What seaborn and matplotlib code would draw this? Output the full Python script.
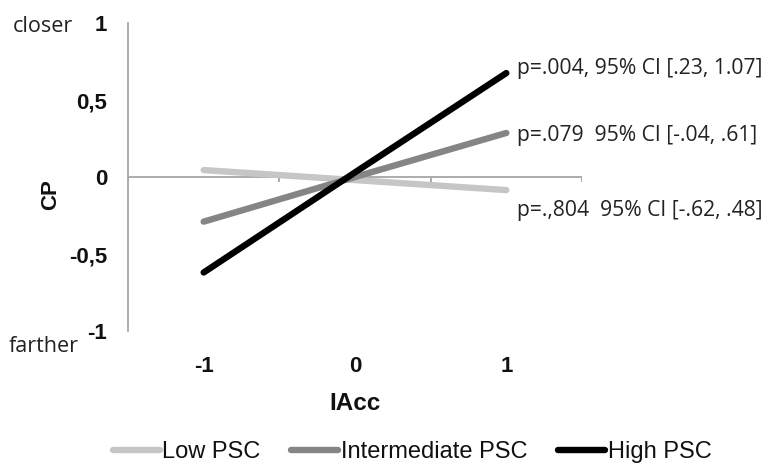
import matplotlib
matplotlib.use("Agg")
import matplotlib.pyplot as plt
import seaborn as sns
import pandas as pd

iacc = [-1, 0, 1]
groups = ["Low PSC", "Intermediate PSC", "High PSC"]
low_psc = [0.045, -0.02, -0.085]
intermediate_psc = [-0.29, 0.0, 0.286]
high_psc = [-0.62, 0.03, 0.675]
annotations = ["p=.,804  95% CI [-.62, .48]",
               "p=.079  95% CI [-.04, .61]",
               "p=.004, 95% CI [.23, 1.07]"]
y_ticks = [-1, -0.5, 0, 0.5, 1]
y_ticklabels = ["-1", "-0,5", "0", "0,5", "1"]

rows = []
for g, vals in zip(groups, [low_psc, intermediate_psc, high_psc]):
    for x, v in zip(iacc, vals):
        rows.append({"IAcc": x, "CP": v, "group": g})
df = pd.DataFrame(rows)

sns.set_style("white")
plt.rcParams["font.family"] = ["Liberation Sans", "DejaVu Sans"]

W, H = 778, 465
fig = plt.figure(figsize=(W / 100, H / 100), dpi=100)
ax = fig.add_axes([128 / W, 1 - 331 / H, 454 / W, 308 / H])

palette = {"Low PSC": "#c6c6c6", "Intermediate PSC": "#858585", "High PSC": "#000000"}
sns.lineplot(data=df, x="IAcc", y="CP", hue="group", palette=palette,
             linewidth=4.6, ax=ax, legend=True, solid_capstyle="round")

ax.set_xlim(-1.5, 1.5)
ax.set_ylim(-1, 1)

for s in ["top", "right", "bottom"]:
    ax.spines[s].set_visible(False)
ax.spines["left"].set_color("#a6a6a6")
ax.spines["left"].set_linewidth(1.3)

ax.axhline(0, color="#a6a6a6", linewidth=1.3, zorder=0)
ax.vlines([-1.5, -0.5, 0.5, 1.5], -0.035, 0, color="#a6a6a6", linewidth=1.3, zorder=0)

ax.set_yticks(y_ticks)
ax.set_yticklabels(y_ticklabels, fontsize=16, fontweight="bold", color="#111111")
ax.tick_params(axis="y", direction="out", length=5, color="#a6a6a6", width=1.3, pad=10)
ax.set_xticks(iacc)
ax.set_xticklabels([str(v) for v in iacc], fontsize=16, fontweight="bold", color="#111111")
ax.tick_params(axis="x", length=0, pad=18)

ax.set_xlabel("")
ax.set_ylabel("")
fig.text(355 / W, 1 - 403 / H, "IAcc", fontsize=17.5, fontweight="bold", color="#111111",
         ha="center", va="center")
fig.text(51 / W, 1 - 195 / H, "CP", fontsize=16, fontweight="bold", color="#111111",
         ha="center", va="center", rotation=90)

offsets = [-15, -2, 3]
for vals, txt, dy in zip([low_psc, intermediate_psc, high_psc], annotations, offsets):
    ax.annotate(txt, xy=(1, vals[-1]), xytext=(7.5, dy), textcoords="offset points",
                fontsize=15.2, family=["Open Sans", "DejaVu Sans"], color="#222222",
                va="center", ha="left", annotation_clip=False)

fig.text(13 / W, 1 - 27 / H, "closer", fontsize=15.5, family=["Open Sans", "DejaVu Sans"],
         color="#222222", va="center", ha="left")
fig.text(9 / W, 1 - 347 / H, "farther", fontsize=15.5, family=["Open Sans", "DejaVu Sans"],
         color="#222222", va="center", ha="left")

leg = ax.legend(loc="center", bbox_to_anchor=(412 / W, 1 - 452 / H),
                bbox_transform=fig.transFigure, ncol=3, frameon=False,
                fontsize=17, handlelength=2.0, handletextpad=0.1, columnspacing=1.3,
                borderpad=0, borderaxespad=0)
for line in leg.get_lines():
    line.set_linewidth(4.6)
for t in leg.get_texts():
    t.set_color("#111111")

fig.savefig("out.png", dpi=100)
